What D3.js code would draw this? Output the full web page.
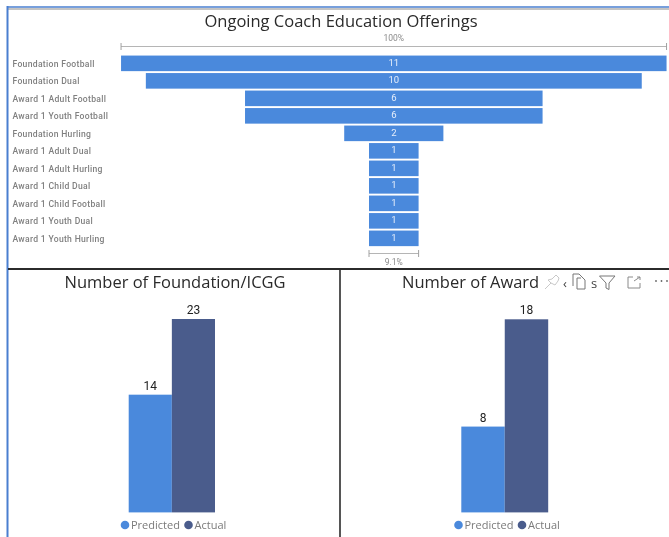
<!DOCTYPE html>
<html><head><meta charset="utf-8">
<script src="https://cdn.jsdelivr.net/npm/d3@7"></script>
<style>html,body{margin:0;padding:0;background:#fff}svg{display:block;filter:blur(0.35px)}</style>
</head><body><svg id="c" width="669" height="537"></svg>
<script>
const funnelCategories=["Foundation Football","Foundation Dual","Award 1 Adult Football","Award 1 Youth Football","Foundation Hurling","Award 1 Adult Dual","Award 1 Adult Hurling","Award 1 Child Dual","Award 1 Child Football","Award 1 Youth Dual","Award 1 Youth Hurling"];
const funnelValues=[11,10,6,6,2,1,1,1,1,1,1];
const columnSeries=["Predicted","Actual"];
const foundationValues=[14,23];
const awardValues=[8,18];
const titles=["Ongoing Coach Education Offerings","Number of Foundation/ICGG","Number of Award"];
const funnelTopLabel="100%", funnelBottomLabel="9.1%";
const LIGHT="#4a89dc", DARK="#4a5c8c", TITLE="'Open Sans','Noto Sans',sans-serif", LABEL="Roboto,'Noto Sans',sans-serif";
const svg=d3.select("#c");

// Frame
const rule=(x1,y1,x2,y2,c,w)=>svg.append("line").attr("x1",x1).attr("y1",y1).attr("x2",x2).attr("y2",y2).attr("stroke",c).attr("stroke-width",w);
rule(7,7,669,7,"#4a7fd0",1.6);
rule(8,9,669,9,"#8a8a8a",1.2);
rule(7.5,6,7.5,537,"#4a7fd0",2);
rule(8,269,669,269,"#2b2b2b",1.8);
rule(340,269,340,537,"#2b2b2b",1.6);

// Funnel
const fx=d3.scaleLinear().domain([0,d3.max(funnelValues)]).range([0,545.5]);
const cx=393.8;
const fy=d3.scaleBand().domain(funnelCategories).range([54.6,247.1]).paddingInner(0.11).paddingOuter(0.055);
const rowG=svg.append("g").selectAll("g").data(funnelCategories).join("g");
rowG.append("rect").attr("x",(d,i)=>cx-fx(funnelValues[i])/2).attr("y",d=>fy(d)).attr("width",(d,i)=>fx(funnelValues[i])).attr("height",fy.bandwidth()).attr("fill",LIGHT);
rowG.append("text").attr("x",393.8).attr("y",d=>fy(d)+fy.bandwidth()/2-1).attr("dy","0.35em").attr("text-anchor","middle").attr("fill","#e6eefa").attr("font-family",LABEL).attr("font-size",9.5).text((d,i)=>funnelValues[i]);
rowG.append("text").attr("x",12.5).attr("y",d=>fy(d)+fy.bandwidth()/2+0.5).attr("dy","0.35em").attr("fill","#808080").attr("font-family",LABEL).attr("font-size",8.6).attr("font-weight",500).attr("letter-spacing",0.3).text(d=>d);

// Funnel brackets
function bracket(w,y,label,ly){
  const x0=cx-w/2,x1=cx+w/2;
  rule(x0,y,x1,y,"#b5b5b5",1); rule(x0,y-3.5,x0,y+3.5,"#a0a0a0",1); rule(x1,y-3.5,x1,y+3.5,"#a0a0a0",1);
  svg.append("text").attr("x",cx).attr("y",ly).attr("text-anchor","middle").attr("fill","#8a8a8a").attr("font-family",LABEL).attr("font-size",8.5).text(label);
}
bracket(fx(funnelValues[0]),46.5,funnelTopLabel,41);
bracket(fx(funnelValues[funnelValues.length-1]),253.5,funnelBottomLabel,265);

// Titles
const title=(t,x,y,a)=>svg.append("text").attr("x",x).attr("y",y).attr("text-anchor",a).attr("fill","#2a2a2a").attr("font-family",TITLE).attr("font-size",16.5).text(t);
title(titles[0],341,27,"middle");
title(titles[1],175,288,"middle");
title(titles[2],402,288,"start");

// Column panels
function columns(vals,x0,x1,top,unitMax,legendX){
  const x=d3.scaleBand().domain(columnSeries).range([x0,x1]);
  const y=d3.scaleLinear().domain([0,unitMax]).range([512.4,top]);
  const g=svg.append("g");
  g.selectAll("rect").data(vals).join("rect").attr("x",(d,i)=>x(columnSeries[i])).attr("y",d=>y(d)).attr("width",x.bandwidth()).attr("height",d=>y(0)-y(d)).attr("fill",(d,i)=>i?DARK:LIGHT);
  g.selectAll("text.v").data(vals).join("text").attr("class","v").attr("x",(d,i)=>x(columnSeries[i])+x.bandwidth()/2).attr("y",d=>y(d)-5).attr("text-anchor","middle").attr("fill","#222").attr("font-family",LABEL).attr("font-size",12).text(d=>d);
  const lx=[legendX,legendX+63.5];
  columnSeries.forEach((s,i)=>{
    g.append("circle").attr("cx",lx[i]).attr("cy",525).attr("r",4.3).attr("fill",i?DARK:LIGHT);
    g.append("text").attr("x",lx[i]+6).attr("y",529).attr("fill","#7a7a7a").attr("font-family",TITLE).attr("font-size",11).text(s);
  });
}
columns(foundationValues,128.7,215,319,d3.max(foundationValues),125);
columns(awardValues,461.3,548.2,319.3,d3.max(awardValues),458.5);

// Hover toolbar of the lower-right visual
const ic=svg.append("g").attr("fill","none").attr("stroke-width",1);
ic.append("path").attr("stroke","#c8c8c8").attr("d","M545 289 L551 283 L548 280 L552 279 L556 275 L559 278 L558 281 L555 285 L551 283");
ic.append("path").attr("stroke","#777").attr("d","M573 286 V274 H579 L585 280 V289 H577 V278 H581");
ic.append("path").attr("stroke","#777").attr("d","M599.5 276 H615 L609 283 V289.5 L606 288 V283 Z");
ic.append("path").attr("stroke","#8a8a8a").attr("d","M633 277 H628 V288 H640 V283 M634 281 L640 277 M637 277 H640 V280");
svg.append("g").selectAll("circle").data([656,661.5,667]).join("circle").attr("cx",d=>d).attr("cy",281).attr("r",0.9).attr("fill","#666");
svg.append("text").attr("x",563).attr("y",288).attr("fill","#444").attr("font-family",TITLE).attr("font-size",13).text("‹");
svg.append("text").attr("x",591).attr("y",288).attr("fill","#444").attr("font-family",TITLE).attr("font-size",13).text("s");
</script></body></html>
